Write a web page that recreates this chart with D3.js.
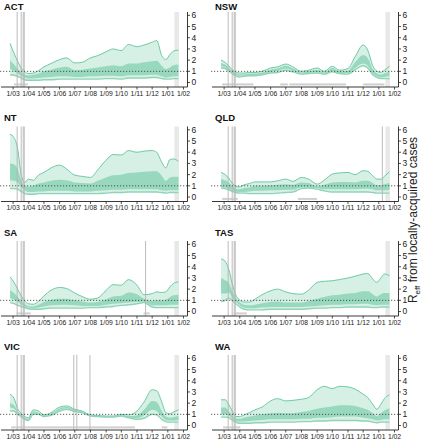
<!DOCTYPE html>
<html><head><meta charset="utf-8">
<script src="https://cdn.jsdelivr.net/npm/d3@7"></script>
<style>body{margin:0;background:#fff}svg{display:block;font-family:"Liberation Sans",Arial,sans-serif}</style>
</head><body>
<svg id="c" width="424" height="440"></svg>
<script>
const dates = ["2020-02-24","2020-03-03","2020-03-10","2020-03-17","2020-03-24","2020-03-31","2020-04-10","2020-04-20","2020-05-01","2020-05-15","2020-06-01","2020-06-15","2020-07-01","2020-07-15","2020-08-01","2020-08-15","2020-09-01","2020-09-15","2020-10-01","2020-10-15","2020-11-01","2020-11-15","2020-12-01","2020-12-10","2020-12-20","2020-12-28","2021-01-05","2021-01-12","2021-01-22"];
const states = ["ACT","NSW","NT","QLD","SA","TAS","VIC","WA"];
const monthTicks = ["2020-03-01","2020-04-01","2020-05-01","2020-06-01","2020-07-01","2020-08-01","2020-09-01","2020-10-01","2020-11-01","2020-12-01","2021-01-01","2021-02-01"];
const monthLabels = ["1/03","1/04","1/05","1/06","1/07","1/08","1/09","1/10","1/11","1/12","1/01","1/02"];
const yTicks = [0,1,2,3,4,5,6];

const ACT_u90 = [3.5,2.6,1.9,1.3,0.95,0.8,0.85,1.05,1.4,1.7,2.05,2.2,1.75,1.8,2.2,2.4,2.75,3.0,2.85,3.4,3.2,3.35,3.6,3.75,2.4,2.05,2.5,2.8,2.9];
const ACT_u50 = [2.0,1.6,1.2,0.9,0.7,0.65,0.7,0.8,1.0,1.15,1.35,1.4,1.1,1.15,1.25,1.35,1.45,1.55,1.45,1.7,1.7,1.8,1.9,1.95,1.5,1.2,1.35,1.55,1.6];
const ACT_l50 = [1.2,1.0,0.8,0.6,0.45,0.35,0.35,0.4,0.45,0.5,0.55,0.55,0.5,0.5,0.55,0.55,0.6,0.6,0.55,0.65,0.65,0.65,0.7,0.7,0.55,0.45,0.5,0.55,0.55];
const ACT_l90 = [0.7,0.65,0.55,0.4,0.25,0.2,0.2,0.2,0.25,0.25,0.3,0.3,0.3,0.3,0.3,0.3,0.35,0.35,0.3,0.4,0.4,0.4,0.45,0.45,0.35,0.3,0.3,0.35,0.35];

const NSW_u90 = [2.0,1.8,1.5,1.15,0.95,0.85,0.85,0.9,0.9,1.0,1.3,1.4,1.65,1.4,1.0,1.1,1.3,1.0,1.45,1.1,1.25,2.3,3.35,2.9,1.5,1.0,0.9,1.1,1.45];
const NSW_u50 = [1.75,1.6,1.35,1.05,0.85,0.75,0.75,0.8,0.8,0.9,1.15,1.25,1.5,1.25,0.9,1.0,1.15,0.9,1.3,1.0,1.05,1.8,2.45,2.2,1.2,0.8,0.7,0.8,1.0];
const NSW_l50 = [1.45,1.35,1.15,0.9,0.7,0.6,0.6,0.65,0.65,0.75,0.95,1.05,1.25,1.05,0.8,0.85,0.95,0.8,1.05,0.85,0.85,1.3,1.7,1.5,0.8,0.55,0.45,0.5,0.55];
const NSW_l90 = [1.3,1.25,1.05,0.8,0.6,0.5,0.55,0.6,0.6,0.7,0.85,0.9,1.1,0.95,0.75,0.8,0.85,0.75,0.95,0.8,0.75,1.15,1.5,1.3,0.7,0.45,0.35,0.35,0.35];

const NT_u90 = [5.6,5.3,4.3,2.0,1.3,1.6,1.5,1.95,2.2,2.6,2.85,2.5,1.95,1.85,1.75,2.4,3.3,3.8,3.75,4.15,4.0,4.1,4.15,4.0,3.1,2.6,3.35,3.4,3.2];
const NT_u50 = [3.0,2.9,2.5,1.5,1.0,0.95,1.0,1.2,1.3,1.45,1.55,1.5,1.3,1.25,1.2,1.45,1.75,1.95,2.0,2.15,2.2,2.25,2.3,2.3,1.9,1.45,1.75,1.8,1.8];
const NT_l50 = [1.5,1.45,1.3,0.9,0.6,0.45,0.45,0.5,0.5,0.55,0.55,0.55,0.5,0.5,0.5,0.55,0.6,0.65,0.65,0.7,0.7,0.7,0.7,0.7,0.6,0.55,0.6,0.6,0.6];
const NT_l90 = [0.75,0.75,0.7,0.5,0.3,0.25,0.25,0.3,0.3,0.3,0.3,0.3,0.3,0.3,0.3,0.3,0.35,0.4,0.4,0.45,0.45,0.45,0.45,0.45,0.4,0.35,0.4,0.4,0.4];

const QLD_u90 = [2.2,2.0,1.7,1.25,0.95,0.9,1.1,1.2,1.35,1.35,1.35,1.45,1.6,1.4,1.75,1.6,1.15,1.5,2.05,2.15,2.2,2.0,2.35,2.3,1.9,1.6,1.6,1.85,2.25];
const QLD_u50 = [1.6,1.5,1.3,1.0,0.75,0.7,0.8,0.85,1.0,1.0,1.05,1.1,1.15,1.1,1.3,1.25,0.95,1.1,1.3,1.35,1.35,1.3,1.45,1.45,1.25,1.05,1.05,1.15,1.25];
const QLD_l50 = [0.9,0.85,0.75,0.6,0.5,0.45,0.45,0.5,0.55,0.55,0.6,0.6,0.65,0.65,0.85,0.85,0.8,0.7,0.7,0.7,0.7,0.7,0.75,0.75,0.7,0.6,0.6,0.6,0.65];
const QLD_l90 = [0.8,0.75,0.65,0.5,0.4,0.35,0.35,0.3,0.3,0.3,0.3,0.35,0.4,0.45,0.75,0.8,0.7,0.55,0.45,0.45,0.45,0.45,0.45,0.45,0.4,0.35,0.35,0.35,0.35];

const SA_u90 = [3.1,2.6,2.0,1.4,0.95,0.7,0.65,0.9,1.4,1.9,2.15,2.05,1.65,1.35,1.1,1.2,1.9,2.4,2.35,2.85,2.35,1.5,1.6,1.75,1.7,1.75,2.2,2.5,2.65];
const SA_u50 = [1.9,1.65,1.3,0.95,0.65,0.5,0.45,0.6,0.85,1.05,1.15,1.15,1.0,0.9,0.8,0.85,1.1,1.35,1.4,1.7,1.55,1.15,0.95,1.0,1.0,1.05,1.3,1.45,1.5];
const SA_l50 = [1.2,1.05,0.85,0.65,0.45,0.35,0.3,0.35,0.45,0.55,0.6,0.6,0.55,0.5,0.5,0.5,0.6,0.7,0.75,0.8,0.85,0.9,0.55,0.55,0.55,0.55,0.6,0.6,0.6];
const SA_l90 = [0.8,0.7,0.55,0.45,0.35,0.25,0.2,0.2,0.25,0.3,0.3,0.3,0.3,0.3,0.35,0.35,0.4,0.45,0.55,0.6,0.7,0.8,0.4,0.35,0.35,0.35,0.35,0.35,0.35];

const TAS_u90 = [4.7,4.5,3.8,2.5,1.5,1.05,0.85,0.85,1.1,1.5,1.85,2.0,1.75,1.6,1.55,1.9,2.6,2.7,2.75,2.85,3.0,3.15,3.35,3.4,2.9,2.6,3.0,3.35,3.2];
const TAS_u50 = [3.0,2.8,2.6,1.8,1.2,0.85,0.6,0.55,0.6,0.75,0.85,0.9,0.8,0.8,0.8,0.95,1.15,1.3,1.45,1.5,1.6,1.65,1.8,1.8,1.55,1.35,1.55,1.65,1.65];
const TAS_l50 = [1.6,1.6,1.7,1.3,0.9,0.6,0.35,0.3,0.3,0.35,0.4,0.4,0.4,0.4,0.4,0.45,0.5,0.55,0.6,0.6,0.65,0.65,0.7,0.7,0.6,0.55,0.6,0.6,0.6];
const TAS_l90 = [0.9,1.0,1.2,1.0,0.7,0.45,0.2,0.15,0.15,0.15,0.2,0.2,0.2,0.2,0.2,0.25,0.3,0.3,0.35,0.35,0.4,0.4,0.4,0.4,0.35,0.35,0.4,0.4,0.4];

const VIC_u90 = [2.8,2.4,1.5,1.1,0.8,0.7,1.4,1.3,0.95,1.15,1.65,1.75,1.45,1.3,0.95,0.9,0.85,0.85,1.0,0.95,1.3,2.1,3.2,3.1,2.1,1.15,1.05,1.2,1.4];
const VIC_u50 = [2.0,1.8,1.3,1.0,0.7,0.6,1.25,1.15,0.9,1.05,1.55,1.65,1.4,1.25,0.92,0.86,0.82,0.82,0.95,0.85,0.9,1.4,2.2,2.1,1.3,0.8,0.7,0.75,0.85];
const VIC_l50 = [1.6,1.5,1.15,0.9,0.6,0.5,1.1,1.05,0.85,0.95,1.4,1.55,1.3,1.2,0.88,0.82,0.78,0.78,0.88,0.75,0.65,0.9,1.4,1.3,0.8,0.5,0.45,0.45,0.5];
const VIC_l90 = [1.3,1.3,1.0,0.8,0.55,0.45,1.0,1.0,0.8,0.9,1.3,1.45,1.25,1.15,0.85,0.8,0.75,0.75,0.85,0.7,0.55,0.65,1.0,0.95,0.55,0.35,0.3,0.3,0.3];

const WA_u90 = [2.3,2.3,1.9,1.3,0.8,0.8,0.95,1.15,1.4,1.65,2.2,2.4,2.2,2.25,2.35,2.5,3.2,3.5,3.3,3.5,3.45,3.25,2.8,2.5,1.9,1.45,1.9,2.4,2.75];
const WA_u50 = [1.6,1.6,1.3,0.9,0.6,0.6,0.7,0.8,0.9,1.0,1.1,1.15,1.1,1.1,1.2,1.3,1.5,1.6,1.7,1.8,1.8,1.75,1.55,1.4,1.1,0.85,1.1,1.35,1.55];
const WA_l50 = [1.0,1.0,0.9,0.65,0.4,0.35,0.35,0.4,0.45,0.5,0.55,0.55,0.55,0.55,0.6,0.6,0.7,0.7,0.75,0.8,0.8,0.8,0.7,0.65,0.55,0.45,0.5,0.55,0.55];
const WA_l90 = [0.75,0.75,0.7,0.5,0.3,0.2,0.2,0.2,0.25,0.25,0.3,0.3,0.3,0.3,0.35,0.35,0.4,0.4,0.45,0.45,0.45,0.45,0.4,0.4,0.3,0.25,0.3,0.3,0.3];

const commonLines = ["2020-03-09","2020-03-17","2020-03-21","2020-03-23"];
const VIC_lines = ["2020-06-29","2020-07-05","2020-07-31"];
const QLD_lines = ["2021-01-08"];
const SA_lines = ["2020-11-18"];
const truncBand = ["2021-01-14","2021-01-23"];

const ACT_rug = [["2020-03-03","2020-03-30"]];
const NSW_rug = [["2020-02-26","2020-04-28"],["2020-06-20","2020-07-05"],["2020-07-08","2020-10-28"],["2020-12-01","2021-01-12"]];
const NT_rug = [];
const QLD_rug = [["2020-02-26","2020-03-28"],["2020-07-25","2020-09-01"]];
const SA_rug = [["2020-03-08","2020-04-05"],["2020-11-14","2020-11-26"]];
const TAS_rug = [["2020-03-20","2020-04-15"]];
const VIC_rug = [["2020-02-26","2020-10-28"],["2020-12-20","2020-12-31"]];
const WA_rug = [["2020-02-28","2020-04-02"]];

const stateData = {
  ACT:[ACT_u90,ACT_u50,ACT_l50,ACT_l90,[],ACT_rug],
  NSW:[NSW_u90,NSW_u50,NSW_l50,NSW_l90,[],NSW_rug],
  NT:[NT_u90,NT_u50,NT_l50,NT_l90,[],NT_rug],
  QLD:[QLD_u90,QLD_u50,QLD_l50,QLD_l90,QLD_lines,QLD_rug],
  SA:[SA_u90,SA_u50,SA_l50,SA_l90,SA_lines,SA_rug],
  TAS:[TAS_u90,TAS_u50,TAS_l50,TAS_l90,[],TAS_rug],
  VIC:[VIC_u90,VIC_u50,VIC_l50,VIC_l90,VIC_lines,VIC_rug],
  WA:[WA_u90,WA_u50,WA_l50,WA_l90,[],WA_rug]
};

const parse = d3.utcParse("%Y-%m-%d");
const svg = d3.select("#c");
const colX = [0, 211];
const rowY = [0, 114.5, 229, 343];
const titleY = [10, 121, 236, 350];
const C_LIGHT = "#d6f0e5", C_DARK = "#98d8be", C_LINE = "#6ccaa4";

states.forEach((st, i) => {
  const px = colX[i % 2], py = rowY[Math.floor(i / 2)];
  const [u90, u50, l50, l90, extra, rug] = stateData[st];
  const x = d3.scaleUtc().domain([parse("2020-02-10"), parse("2021-02-01")]).range([px + 3, px + 183.5]);
  const y = d3.scaleLinear().domain([-0.4, 6.3]).range([py + 87, py + 12]);
  const g = svg.append("g");
  const rows = dates.map((d, k) => ({d: parse(d), u90: u90[k], u50: u50[k], l50: l50[k], l90: l90[k]}));

  g.append("rect").attr("x", x(parse(truncBand[0]))).attr("width", x(parse(truncBand[1])) - x(parse(truncBand[0])))
    .attr("y", y(6.3)).attr("height", y(-0.4) - y(6.3)).attr("fill", "#e8e8e8");

  const area = (a, b) => d3.area().x(r => x(r.d)).y0(r => y(r[a])).y1(r => y(r[b])).curve(d3.curveMonotoneX);
  const line = (a) => d3.line().x(r => x(r.d)).y(r => y(r[a])).curve(d3.curveMonotoneX);
  g.append("path").datum(rows).attr("d", area("l90", "u90")).attr("fill", C_LIGHT);
  g.append("path").datum(rows).attr("d", area("l50", "u50")).attr("fill", C_DARK);
  g.append("path").datum(rows).attr("d", line("u90")).attr("fill", "none").attr("stroke", C_LINE).attr("stroke-width", 1);
  g.append("path").datum(rows).attr("d", line("l90")).attr("fill", "none").attr("stroke", "#8fd4b8").attr("stroke-width", 1.4);

  commonLines.concat(extra).forEach(d => {
    const xv = x(parse(d));
    g.append("line").attr("x1", xv).attr("x2", xv).attr("y1", y(6.3)).attr("y2", y(-0.4))
      .attr("stroke", "#b4b4b4").attr("stroke-width", 0.9);
  });

  rug.forEach(([a, b]) => {
    g.append("rect").attr("x", x(parse(a))).attr("width", x(parse(b)) - x(parse(a)))
      .attr("y", y(-0.08)).attr("height", 2).attr("fill", "#c4c4c4").attr("opacity", 0.8);
  });

  g.append("line").attr("x1", px).attr("x2", px + 187).attr("y1", y(1)).attr("y2", y(1))
    .attr("stroke", "#333").attr("stroke-width", 0.8).attr("stroke-dasharray", "1.2,1.8");

  const xa = g.append("g").attr("transform", `translate(0,${y(-0.4)})`);
  xa.append("line").attr("x1", px + 1).attr("x2", px + 187.5).attr("stroke", "#222").attr("stroke-width", 0.9);
  monthTicks.forEach((m, k) => {
    const xv = x(parse(m));
    xa.append("line").attr("x1", xv).attr("x2", xv).attr("y1", 0).attr("y2", 2.5).attr("stroke", "#222").attr("stroke-width", 0.8);
    xa.append("text").attr("x", xv).attr("y", 8.8).attr("text-anchor", "middle")
      .attr("font-size", 6.8).attr("fill", "#222").text(monthLabels[k]);
  });

  const ax = px + 187.5;
  g.append("line").attr("x1", ax).attr("x2", ax).attr("y1", y(6.3)).attr("y2", y(-0.4)).attr("stroke", "#222").attr("stroke-width", 0.9);
  yTicks.forEach(t => {
    g.append("line").attr("x1", ax).attr("x2", ax + 2.5).attr("y1", y(t)).attr("y2", y(t)).attr("stroke", "#222").attr("stroke-width", 0.8);
    g.append("text").attr("x", ax + 4).attr("y", y(t)).attr("dy", "0.35em")
      .attr("font-size", 8.5).attr("fill", "#222").text(t);
  });

  g.append("text").attr("x", px + 4).attr("y", titleY[Math.floor(i / 2)]).attr("font-size", 9.5)
    .attr("font-weight", "bold").attr("fill", "#111").text(st);
});

const yl = svg.append("text").attr("transform", "translate(417,220) rotate(-90)")
  .attr("text-anchor", "middle").attr("font-size", 12).attr("fill", "#222");
yl.append("tspan").text("R");
yl.append("tspan").attr("font-size", 8).attr("dy", 2.5).text("eff");
yl.append("tspan").attr("dy", -2.5).text(" from locally-acquired cases");
</script>
</body></html>
